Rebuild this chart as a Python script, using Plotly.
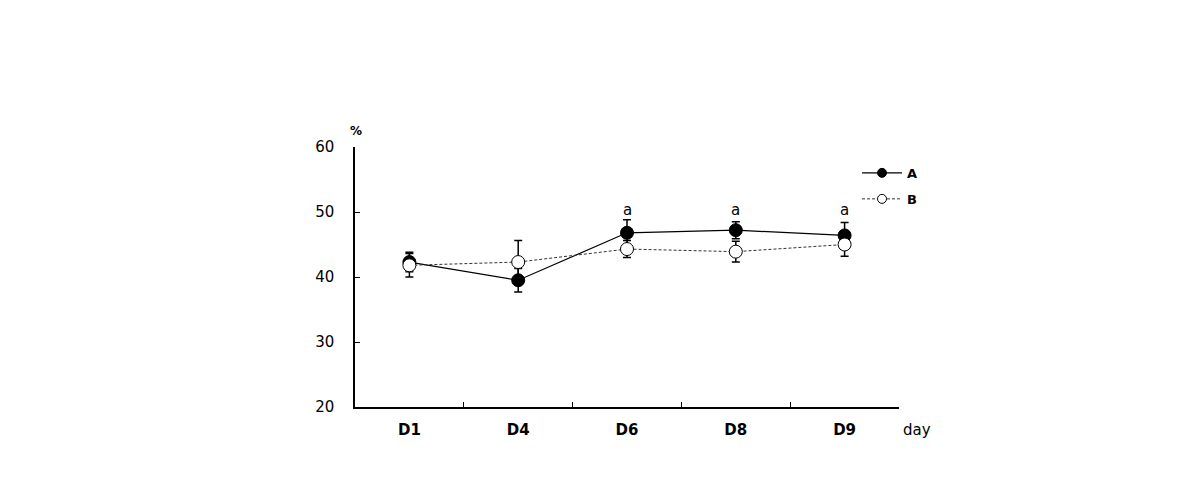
import plotly.graph_objects as go

categories = ["D1", "D4", "D6", "D8", "D9"]
a_values = [42.3, 39.5, 46.8, 47.2, 46.4]
a_errors = [1.5, 1.8, 2.0, 1.3, 2.0]
b_values = [41.8, 42.3, 44.3, 43.9, 45.0]
b_errors = [1.8, 3.3, 1.3, 1.6, 1.8]
sig_labels = ["", "", "a", "a", "a"]
sig_y = [50.3, 50.3, 50.3, 50.3, 50.3]
y_ticks = [20, 30, 40, 50, 60]

line_a = dict(color="black", width=1.2)
line_b = dict(color="#333333", width=1, dash="3px,2px")
marker_a = dict(symbol="circle", color="black", line=dict(color="black", width=1))
marker_b = dict(symbol="circle", color="white", line=dict(color="black", width=1))

fig = go.Figure()
fig.add_trace(go.Scatter(
    x=categories, y=a_values, name="A", mode="lines+markers", showlegend=False,
    line=line_a, marker=dict(size=13, **marker_a),
    error_y=dict(type="data", array=a_errors, color="black", thickness=1.5, width=4),
))
fig.add_trace(go.Scatter(
    x=categories, y=b_values, name="B", mode="lines+markers", showlegend=False,
    line=line_b, marker=dict(size=13, **marker_b),
    error_y=dict(type="data", array=b_errors, color="black", thickness=1.5, width=4),
))
# legend entries (smaller symbols, as in the reference key)
fig.add_trace(go.Scatter(x=[None], y=[None], name="A", mode="lines+markers",
                         line=line_a, marker=dict(size=9, **marker_a), legend="legend"))
fig.add_trace(go.Scatter(x=[None], y=[None], name="B", mode="lines+markers",
                         line=line_b, marker=dict(size=9, **marker_b), legend="legend2"))

for c, t, yv in zip(categories, sig_labels, sig_y):
    if t:
        fig.add_annotation(x=c, y=yv, text=t, showarrow=False, yanchor="middle",
                           font=dict(size=15, color="black", family="DejaVu Sans"))

fig.add_annotation(xref="paper", yref="paper", x=0.0, y=1.0, xshift=1, yshift=7, text="<b>%</b>",
                   showarrow=False, xanchor="center", yanchor="bottom",
                   font=dict(size=12, color="black", family="DejaVu Sans"))
fig.add_annotation(xref="paper", yref="paper", x=1.0, y=0, xshift=18, yshift=-23, text="day",
                   showarrow=False, xanchor="center", yanchor="middle",
                   font=dict(size=15, color="black", family="DejaVu Sans"))

legend_common = dict(xanchor="left", yanchor="top", bgcolor="rgba(0,0,0,0)", itemwidth=40,
                     font=dict(size=13, color="black", family="DejaVu Sans", weight="bold"))
fig.update_layout(
    width=1190, height=486,
    margin=dict(l=355, r=291, t=147, b=79),
    plot_bgcolor="white", paper_bgcolor="white",
    showlegend=True,
    legend=dict(x=0.9228, y=0.958, **legend_common),
    legend2=dict(x=0.9228, y=0.858, **legend_common),
    font=dict(family="DejaVu Sans", color="black"),
)
fig.update_xaxes(
    type="category", range=[-0.5, 4.5], showline=True, linecolor="black", linewidth=1.5,
    ticks="inside", tickson="boundaries", ticklen=5, tickcolor="black",
    showgrid=False, zeroline=False,
    tickfont=dict(size=15, family="DejaVu Sans", weight="bold"), ticklabelstandoff=8,
)
fig.update_yaxes(
    range=[20, 60], tickvals=y_ticks, showline=True, linecolor="black", linewidth=1.5,
    ticks="inside", ticklen=5, tickcolor="black", showgrid=False, zeroline=False,
    tickfont=dict(size=15, family="DejaVu Sans"), ticklabelstandoff=16,
)
fig.write_html("out.html")
